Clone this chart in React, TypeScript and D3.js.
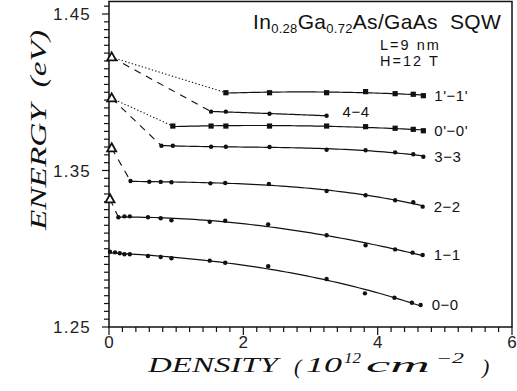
import * as d3 from "d3"

// 1'-1' (squares)
const d11pX = [1.74, 2.39, 3.24, 3.82, 4.26, 4.53, 4.68]
const d11pE = [1.3997, 1.3997, 1.3997, 1.4004, 1.3991, 1.3987, 1.3978]
// 4-4
const d44X = [1.52, 1.74, 2.39, 3.24]
const d44E = [1.3876, 1.3876, 1.3863, 1.385]
// 0'-0' (squares)
const d00pX = [0.95, 1.52, 1.74, 2.39, 3.24, 3.82, 4.26, 4.53, 4.68]
const d00pE = [1.3784, 1.3784, 1.3784, 1.3784, 1.3784, 1.378, 1.377, 1.3763, 1.3754]
// 3-3
const d33X = [0.78, 0.95, 1.52, 1.74, 2.39, 3.24, 3.82, 4.26, 4.53, 4.68]
const d33E = [1.3658, 1.3658, 1.3652, 1.3652, 1.365, 1.3633, 1.3629, 1.3616, 1.3604, 1.3588]
// 2-2
const d22X = [0.32, 0.6, 0.77, 0.93, 1.51, 1.73, 2.38, 3.24, 3.82, 4.26, 4.53, 4.67]
const d22E = [1.3433, 1.3428, 1.3427, 1.3425, 1.3418, 1.342, 1.3414, 1.3369, 1.3342, 1.331, 1.3297, 1.3269]
// 1-1
const d11X = [0.14, 0.23, 0.31, 0.58, 0.77, 0.93, 1.5, 1.73, 2.37, 3.24, 3.82, 4.26, 4.52, 4.67]
const d11E = [1.3201, 1.3207, 1.3207, 1.3201, 1.3195, 1.3182, 1.3173, 1.3179, 1.3156, 1.3086, 1.3022, 1.2996, 1.2975, 1.296]
// 0-0
const d00X = [0.015, 0.09, 0.16, 0.23, 0.31, 0.58, 0.77, 0.93, 1.5, 1.73, 2.37, 3.24, 3.81, 4.25, 4.51, 4.64]
const d00E = [1.2981, 1.2977, 1.2971, 1.2965, 1.2965, 1.2954, 1.2947, 1.2939, 1.2924, 1.2911, 1.2888, 1.2807, 1.2715, 1.2687, 1.2655, 1.2641]

// open triangles at zero density
const triX = [0.04, 0.04, 0.04, 0.015]
const triE = [1.4223, 1.3961, 1.3642, 1.3316]

const yTickLabels = ["1.25", "1.35", "1.45"]
const xTickLabels = ["0", "2", "4", "6"]

const series = [
  { name: "1'-1'", xs: d11pX, es: d11pE, square: true, deg: 2 },
  { name: "4-4", xs: d44X, es: d44E, square: false, deg: 2 },
  { name: "0'-0'", xs: d00pX, es: d00pE, square: true, deg: 2 },
  { name: "3-3", xs: d33X, es: d33E, square: false, deg: 3 },
  { name: "2-2", xs: d22X, es: d22E, square: false, deg: 3 },
  { name: "1-1", xs: d11X, es: d11E, square: false, deg: 3 },
  { name: "0-0", xs: d00X, es: d00E, square: false, deg: 3 },
]

// triangle index -> series it joins, dotted or dashed
const links = [
  { tri: 0, to: "1'-1'", dotted: true },
  { tri: 0, to: "4-4", dotted: false },
  { tri: 1, to: "0'-0'", dotted: true },
  { tri: 1, to: "3-3", dotted: false },
  { tri: 2, to: "2-2", dotted: false },
  { tri: 3, to: "1-1", dotted: false },
]

// least squares polynomial, the smooth line through each set
function polyFit(xs: number[], ys: number[], deg: number) {
  const n = deg + 1
  const A = d3.range(n).map(() => new Array(n + 1).fill(0))
  xs.forEach((xv, k) => {
    for (let i = 0; i < n; i++) {
      for (let j = 0; j < n; j++) A[i][j] += Math.pow(xv, i + j)
      A[i][n] += ys[k] * Math.pow(xv, i)
    }
  })
  for (let c = 0; c < n; c++) {
    let p = c
    for (let r = c + 1; r < n; r++) if (Math.abs(A[r][c]) > Math.abs(A[p][c])) p = r
    ;[A[c], A[p]] = [A[p], A[c]]
    for (let r = 0; r < n; r++) {
      if (r === c) continue
      const f = A[r][c] / A[c][c]
      for (let j = c; j <= n; j++) A[r][j] -= f * A[c][j]
    }
  }
  const coef = A.map((row, i) => row[n] / row[i])
  return (xv: number) => coef.reduce((s, c, i) => s + c * Math.pow(xv, i), 0)
}

export default function App() {
  const width = 517
  const height = 391
  const x = d3.scaleLinear().domain([0, 6]).range([109, 512])
  const y = d3.scaleLinear().domain([1.25, 1.45]).range([327, 14])
  const top = y(1.458)

  const line = d3
    .line<[number, number]>()
    .x((d) => x(d[0]))
    .y((d) => y(d[1]))

  const yMinor = d3.range(0, 42).map((i) => 1.25 + i * 0.005)
  const xMinor = d3.range(0, 31).map((i) => i * 0.2)
  const sans = "'Liberation Sans', Arial, sans-serif"
  const serif = "'Liberation Serif', 'DejaVu Serif', serif"

  const titleStyle = {
    fontFamily: serif,
    fontStyle: "italic",
    fill: "#111",
  } as const

  return (
    <svg width={width} height={height} style={{ position: "absolute", left: 0, top: 0, background: "#fff" }}>
      {/* frame */}
      <rect x={x(0)} y={top} width={x(6) - x(0)} height={y(1.25) - top} fill="none" stroke="#111" strokeWidth={1.5} />

      {/* y ticks */}
      {yMinor.map((v, i) => (
        <line key={"yt" + i} x1={x(0) - (i % 20 === 0 ? 7 : 5)} x2={x(0)} y1={y(v)} y2={y(v)} stroke="#111" strokeWidth={1.2} />
      ))}
      {yTickLabels.map((t) => (
        <text key={t} x={91} y={y(+t) + 6} textAnchor="end" fontFamily={sans} fontSize={17} letterSpacing={1.2} fill="#222">
          {t}
        </text>
      ))}

      {/* x ticks */}
      {xMinor.map((v, i) => (
        <line key={"xt" + i} x1={x(v)} x2={x(v)} y1={y(1.25)} y2={y(1.25) + (i % 10 === 0 ? 8 : 5)} stroke="#111" strokeWidth={1.2} />
      ))}
      {xTickLabels.map((t) => (
        <text key={t} x={x(+t)} y={348} textAnchor="middle" fontFamily={sans} fontSize={17} fill="#222">
          {t}
        </text>
      ))}

      {/* links from triangles */}
      {links.map((l, i) => {
        const s = series.find((d) => d.name === l.to)!
        return (
          <line
            key={"ln" + i}
            x1={x(triX[l.tri])}
            y1={y(triE[l.tri])}
            x2={x(s.xs[0])}
            y2={y(s.es[0])}
            stroke="#111"
            strokeWidth={1.1}
            strokeDasharray={l.dotted ? "1.3,2.2" : "7,6"}
          />
        )
      })}

      {/* fitted curves */}
      {series.map((s) => {
        const f = polyFit(s.xs, s.es, s.deg)
        const x0 = s.xs[0]
        const x1 = s.xs[s.xs.length - 1]
        const pts = d3.range(0, 61).map((i) => {
          const xv = x0 + ((x1 - x0) * i) / 60
          return [xv, f(xv)] as [number, number]
        })
        return <path key={"p" + s.name} d={line(pts) || ""} fill="none" stroke="#111" strokeWidth={1.2} />
      })}

      {/* markers */}
      {series.map((s) =>
        s.xs.map((v, i) =>
          s.square ? (
            <rect key={s.name + i} x={x(v) - 2.6} y={y(s.es[i]) - 2.6} width={5.2} height={5.2} fill="#111" />
          ) : (
            <circle key={s.name + i} cx={x(v)} cy={y(s.es[i])} r={2.2} fill="#111" />
          )
        )
      )}
      {triX.map((v, i) => {
        const cx = x(v)
        const cy = y(triE[i])
        return (
          <path
            key={"tri" + i}
            d={`M${cx},${cy - 5} L${cx + 4.5},${cy + 3} L${cx - 4.5},${cy + 3} Z`}
            fill="#fff"
            stroke="#111"
            strokeWidth={1.8}
          />
        )
      })}

      {/* curve labels */}
      {series.map((s) => {
        const n = s.xs.length - 1
        const lx = x(s.xs[n])
        const ly = y(s.es[n])
        const is44 = s.name === "4-4"
        return (
          <text
            key={"lab" + s.name}
            x={is44 ? lx + 16 : lx + 11}
            y={is44 ? ly + 1 : ly + 5}
            fontFamily={sans}
            fontSize={15}
            letterSpacing={0.5}
            fill="#111"
          >
            {s.name.replace(/-/g, "\u2212")}
          </text>
        )
      })}

      {/* annotation */}
      <text x={253} y={29} fontFamily={sans} fontSize={21} letterSpacing={0.3} fill="#111">
        In<tspan fontSize={13} dy={4}>0.28</tspan>
        <tspan dy={-4}>Ga</tspan>
        <tspan fontSize={13} dy={4}>0.72</tspan>
        <tspan dy={-4}>As/GaAs{"\u00a0\u00a0"}SQW</tspan>
      </text>
      <text x={380} y={50} fontFamily={sans} fontSize={14.5} letterSpacing={2} fill="#111">
        L=9{"\u00a0"}nm
      </text>
      <text x={380} y={66} fontFamily={sans} fontSize={14.5} letterSpacing={2} fill="#111">
        H=12{"\u00a0"}T
      </text>

      {/* axis titles */}
      <text
        transform="translate(46,230) rotate(-90)"
        {...titleStyle}
        fontSize={23}
        textLength={200}
        lengthAdjust="spacingAndGlyphs"
      >
        ENERGY{"\u00a0\u00a0"}(eV)
      </text>
      <text x={148} y={372} {...titleStyle} fontSize={22} textLength={130} lengthAdjust="spacingAndGlyphs">
        DENSITY
      </text>
      <text x={294} y={374} {...titleStyle} fontSize={22}>
        (
      </text>
      <text x={306} y={372} {...titleStyle} fontSize={22} textLength={36} lengthAdjust="spacingAndGlyphs">
        10
      </text>
      <text x={344} y={363} {...titleStyle} fontSize={14} textLength={17} lengthAdjust="spacingAndGlyphs">
        12
      </text>
      <text x={366} y={372} {...titleStyle} fontSize={22} textLength={64} lengthAdjust="spacingAndGlyphs">
        cm
      </text>
      <text x={436} y={363} {...titleStyle} fontSize={14} textLength={28} lengthAdjust="spacingAndGlyphs">
        −2
      </text>
      <text x={482} y={374} {...titleStyle} fontSize={22}>
        )
      </text>
    </svg>
  )
}
